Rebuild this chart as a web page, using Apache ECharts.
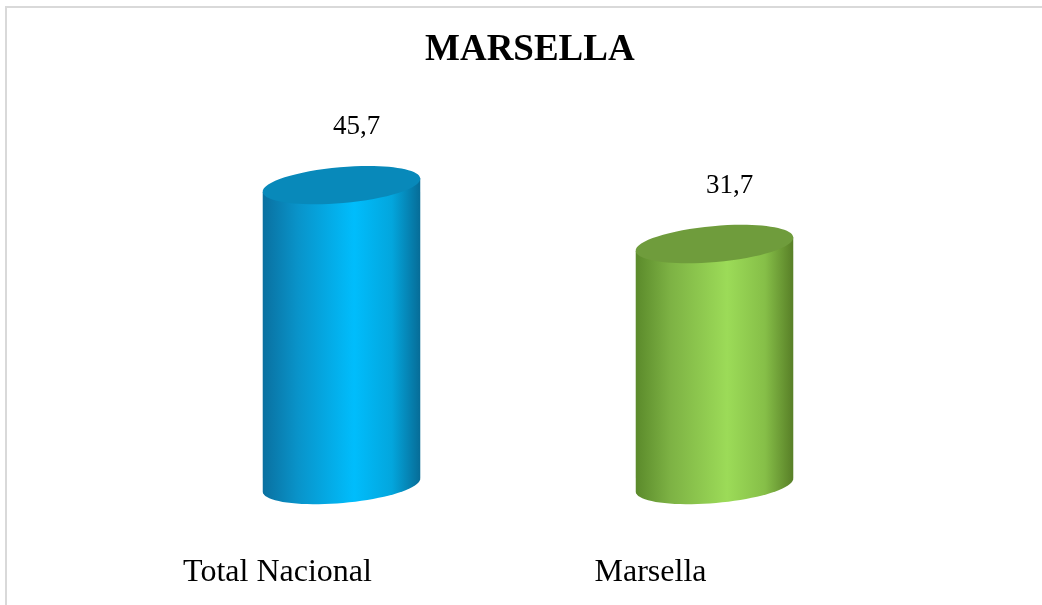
<!DOCTYPE html>
<html>
<head>
<meta charset="utf-8">
<script src="https://cdn.jsdelivr.net/npm/echarts@6/dist/echarts.min.js"></script>
<style>
  html, body { margin: 0; padding: 0; background: #fff; }
  #chart { width: 1042px; height: 605px; }
</style>
</head>
<body>
<div id="chart"></div>
<script>
var categories = ['Total Nacional', 'Marsella'];
var values = [45.7, 31.7];

var capColors = ['#0889ba', '#6f9c3c'];
var bodyStops = [
    ['#0a70a0', '#0993c9', '#00bdfc', '#03a6dd', '#076c97'],
    ['#5b8a2b', '#7db244', '#9cdb58', '#86bf48', '#587f27']
];

var myChart = echarts.init(document.getElementById('chart'));

function ellipsePt(cx, cy, a, b, th, t) {
    return [
        cx + a * Math.cos(t) * Math.cos(th) + b * Math.sin(t) * Math.sin(th),
        cy - a * Math.cos(t) * Math.sin(th) + b * Math.sin(t) * Math.cos(th)
    ];
}

function renderCylinder(params, api) {
    var idx = params.dataIndex;
    var top = api.coord([api.value(0), api.value(1)]);
    var cs = params.coordSys;
    var baseY = cs.y + cs.height;
    var cx = top[0];
    var a = api.size([1, 0])[0] * 0.212;
    var b = 18;
    var th = 5 * Math.PI / 180;

    var pts = [];
    pts.push(ellipsePt(cx, top[1], a, b, th, Math.PI));
    for (var i = 0; i <= 40; i++) {
        var t = Math.PI - Math.PI * i / 40;
        pts.push(ellipsePt(cx, baseY, a, b, th, t));
    }
    pts.push(ellipsePt(cx, top[1], a, b, th, 0));

    var s = bodyStops[idx];
    var grad = new echarts.graphic.LinearGradient(0, 0, 1, 0, [
        {offset: 0, color: s[0]},
        {offset: 0.22, color: s[1]},
        {offset: 0.58, color: s[2]},
        {offset: 0.82, color: s[3]},
        {offset: 1, color: s[4]}
    ]);

    return {
        type: 'group',
        children: [
            {
                type: 'polygon',
                shape: {points: pts},
                style: {fill: grad}
            },
            {
                type: 'ellipse',
                x: cx,
                y: top[1],
                rotation: th,
                shape: {cx: 0, cy: 0, rx: a, ry: b},
                style: {fill: capColors[idx]}
            },
            {
                type: 'text',
                x: cx + 15,
                y: top[1] - 58,
                style: {
                    text: String(values[idx]).replace('.', ','),
                    fontFamily: 'Liberation Serif',
                    fontSize: 27,
                    fill: '#000',
                    align: 'center',
                    verticalAlign: 'middle'
                }
            }
        ]
    };
}

var option = {
    backgroundColor: '#fff',
    animation: false,
    title: {
        text: 'MARSELLA',
        left: 420,
        top: 27,
        textStyle: {
            fontFamily: 'Liberation Serif',
            fontSize: 37,
            fontWeight: 'bold',
            color: '#000'
        }
    },
    graphic: [{
        type: 'rect',
        shape: {x: 6, y: 7, width: 1100, height: 700},
        style: {fill: null, stroke: '#d9d9d9', lineWidth: 2},
        silent: true
    }],
    grid: {left: 155, width: 746, top: 167, bottom: 120},
    xAxis: {
        type: 'category',
        data: categories,
        axisLine: {show: false},
        axisTick: {show: false},
        axisLabel: {
            margin: 72,
            fontFamily: 'Liberation Serif',
            fontSize: 32,
            color: '#000',
            padding: [0, 128, 0, 0]
        }
    },
    yAxis: {
        type: 'value',
        min: -25.5,
        max: 50,
        show: false
    },
    series: [{
        type: 'custom',
        renderItem: renderCylinder,
        data: values.map(function (v, i) { return [i, v]; })
    }]
};

myChart.setOption(option);
</script>
</body>
</html>
